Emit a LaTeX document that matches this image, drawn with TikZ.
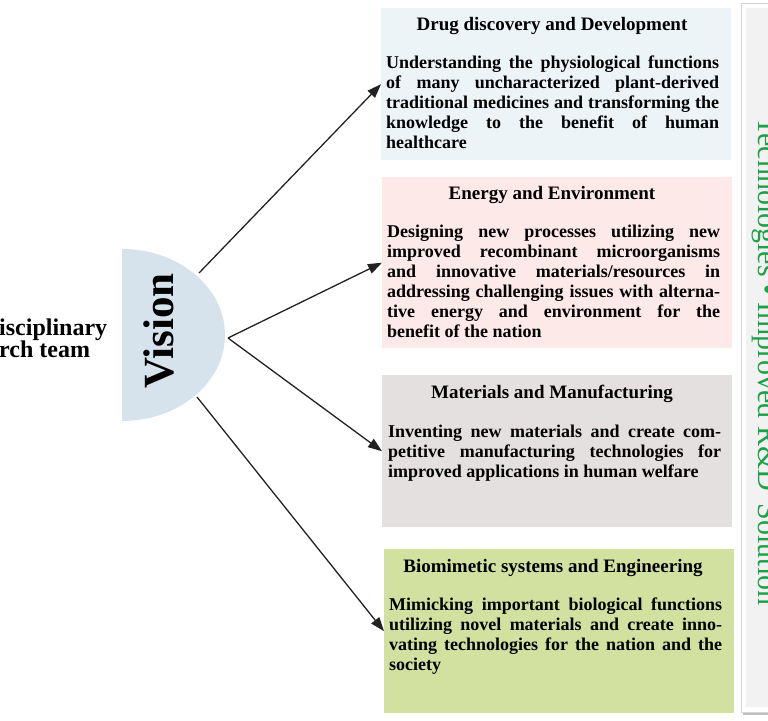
\documentclass[tikz,border=0pt]{standalone}
\usepackage{fontspec}
\setmainfont{Liberation Serif}
\usetikzlibrary{arrows.meta}
\definecolor{visionblue}{RGB}{214,226,236}
\definecolor{drugblue}{RGB}{237,244,248}
\definecolor{energypink}{RGB}{252,233,232}
\definecolor{matgray}{RGB}{228,224,224}
\definecolor{biogreen}{RGB}{210,224,160}
\definecolor{panelgray}{RGB}{242,242,242}
\definecolor{framegray}{RGB}{215,215,215}
\definecolor{techgreen}{RGB}{30,160,75}
\definecolor{linkgray}{RGB}{34,34,34}
\tolerance=10000
\hyphenpenalty=10000
\exhyphenpenalty=10000
\begin{document}
\begin{tikzpicture}[x=1pt,y=-1pt,
    fieldbox/.style={anchor=north west, inner sep=0, minimum width=350pt},
    fieldtitle/.style={anchor=base, inner sep=0, font=\bfseries\fontsize{19}{22}\selectfont},
    fieldtext/.style={anchor=north west, inner sep=0, text width=333pt, align=justify,
        font=\bfseries\fontsize{18}{20}\selectfont},
    link/.style={draw=linkgray, line width=1.3pt, -{Triangle[length=14pt,width=10pt]}}]
    \useasboundingbox (0,0) rectangle (768,720);
    % panel on the right
    \fill[black!25] (743,6) rectangle (790,715);
    \filldraw[fill=white, draw=framegray] (741,3) rectangle (790,712);
    \fill[panelgray] (746,8) rectangle (790,707);
    \node[rotate=-90, anchor=base west, inner sep=0, text=techgreen,
        font=\fontsize{30}{30}\selectfont] (tech) at (758,117) {Technologies • Improved R\&D\ \,Solution};
    % vision
    \fill[visionblue] (122,249) arc[start angle=-90, end angle=90, x radius=103, y radius=86] -- cycle;
    \node[rotate=90, anchor=base, inner sep=0, font=\bfseries\fontsize{43}{43}\selectfont] (vision) at (173,331) {Vision};
    \node[anchor=west, align=left, inner sep=0, font=\bfseries\fontsize{24}{22}\selectfont] (team) at (-1,338) {isciplinary\\rch team};
    % the four fields
    \node[fieldbox, fill=drugblue, minimum height=152pt] (drug) at (381,8) {};
    \node[fieldbox, fill=energypink, minimum height=171pt] (energy) at (382,177) {};
    \node[fieldbox, fill=matgray, minimum height=152pt] (mat) at (382,375) {};
    \node[fieldbox, fill=biogreen, minimum height=164pt] (bio) at (384,549) {};
    \node[fieldtitle] (drugtitle) at ([xshift=171pt,yshift=-22pt]drug.north west) {Drug discovery and Development};
    \node[fieldtitle] (energytitle) at ([xshift=170pt,yshift=-22pt]energy.north west) {Energy and Environment};
    \node[fieldtitle] (mattitle) at ([xshift=170pt,yshift=-23pt]mat.north west) {Materials and Manufacturing};
    \node[fieldtitle] (biotitle) at ([xshift=169pt,yshift=-23pt]bio.north west) {Biomimetic systems and Engineering};
    \node[fieldtext] (drugtext) at ([xshift=5pt,yshift=-46pt]drug.north west) {\strut Understanding the physiological functions\linebreak
        of many uncharacterized plant-derived\linebreak traditional medicines and transforming the\linebreak
        knowledge to the benefit of human\linebreak healthcare};
    \node[fieldtext] (energytext) at ([xshift=5pt,yshift=-46pt]energy.north west) {\strut Designing new processes utilizing new\linebreak
        improved recombinant microorganisms\linebreak and innovative materials/resources in\linebreak
        addressing challenging issues with alterna-\linebreak tive energy and environment for the\linebreak benefit of the nation};
    \node[fieldtext] (mattext) at ([xshift=6pt,yshift=-48pt]mat.north west) {\strut Inventing new materials and create com-\linebreak
        petitive manufacturing technologies for\linebreak improved applications in human welfare};
    \node[fieldtext] (biotext) at ([xshift=5pt,yshift=-47pt]bio.north west) {\strut Mimicking important biological functions\linebreak
        utilizing novel materials and create inno-\linebreak vating technologies for the nation and the\linebreak society};
    % links
    \coordinate (v1) at (199,273);
    \coordinate (v2) at (228,338);
    \coordinate (v3) at (197,397);
    \draw[link] (v1) -- (drug.west);
    \draw[link] (v2) -- (energy.west);
    \draw[link] (v2) -- (mat.west);
    \draw[link] (v3) -- (bio.west);
\end{tikzpicture}
\end{document}
